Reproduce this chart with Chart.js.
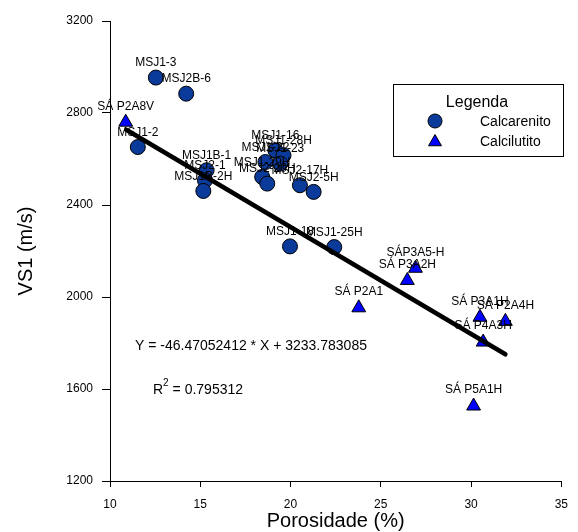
<!DOCTYPE html>
<html lang="pt">
<head>
<meta charset="utf-8">
<title>VS1 x Porosidade</title>
<script src="https://cdn.jsdelivr.net/npm/chart.js@4.4.0/dist/chart.umd.min.js"></script>
<style>
    html, body { margin: 0; padding: 0; background: #fff; }
    #grafico { display: block; }
</style>
</head>
<body>
<canvas id="grafico" width="578" height="532"></canvas>
<script>
// ===== Dados =====
// Calcarenito (círculos)
const calcarenitoNomes = ['MSJ1-3', 'MSJ2B-6', 'MSJ1-2', 'MSJ1B-1', 'MSJ2-1', 'MSJ1B-2H',
    'MSJ1-16', 'MSJ1-28H', 'MSJ1-22', 'MSJ1-23', 'MSJ1-29H', 'MSJ2-20H',
    'MSJ2-17H', 'MSJ2-5H', 'MSJ1-18', 'MSJ1-25H'];
const calcarenitoPorosidade = [12.54, 14.22, 11.54, 15.35, 15.26, 15.17,
    19.16, 19.61, 18.61, 19.43, 18.43, 18.71, 20.52, 21.28, 19.97, 22.42];
const calcarenitoVS1 = [2954, 2884, 2652, 2551, 2507, 2461,
    2638, 2616, 2587, 2580, 2522, 2493, 2486, 2457, 2220, 2217];

// Calcilutito (triângulos)
const calcilutitoNomes = ['SÁ P2A8V', 'SÁP3A5-H', 'SÁ P3A2H', 'SÁ P2A1',
    'SÁ P3A1H', 'SÁ P2A4H', 'SÁ P4A3H', 'SÁ P5A1H'];
const calcilutitoPorosidade = [10.87, 26.92, 26.47, 23.78, 30.49, 31.9, 30.67, 30.14];
const calcilutitoVS1 = [2760, 2125, 2072, 1953, 1912, 1894, 1804, 1526];

// Reta de regressão (extremos)
const retaPorosidade = [10.9, 31.9];
const retaVS1 = [2727, 1751];

// Eixos
const eixoXTicks = [10, 15, 20, 25, 30, 35];
const eixoYTicks = [1200, 1600, 2000, 2400, 2800, 3200];

const textoEquacao = 'Y = -46.47052412 * X + 3233.783085';
const textoR2 = '0.795312';

// ===== Configuração =====
const FONTE = "Arial, 'Liberation Sans', sans-serif";
const corCirculo = '#0a3a9a';
const corTriangulo = '#0000ff';

function pontos(xs, ys) {
    return xs.map((x, i) => ({ x: x, y: ys[i] }));
}

// Rótulos de cada ponto, desenhados antes da reta
const pluginRotulos = {
    id: 'rotulos',
    afterDatasetDraw(chart, args) {
        const ds = chart.data.datasets[args.index];
        if (!ds.nomes) return;
        const ctx = chart.ctx;
        const meta = args.meta;
        ctx.save();
        ctx.font = '12px ' + FONTE;
        ctx.fillStyle = '#000';
        ctx.textAlign = 'center';
        ctx.textBaseline = 'middle';
        meta.data.forEach((el, i) => {
            const dy = ds.pointStyle === 'triangle' ? 16 : 14.5;
            ctx.fillText(ds.nomes[i], el.x, el.y - dy);
        });
        ctx.restore();
    }
};

// Legenda e equação
const pluginAnotacoes = {
    id: 'anotacoes',
    afterDraw(chart) {
        const ctx = chart.ctx;
        ctx.save();

        // Caixa da legenda
        ctx.strokeStyle = '#000';
        ctx.lineWidth = 1;
        ctx.strokeRect(393.5, 84.5, 170, 72);
        ctx.fillStyle = '#000';
        ctx.textBaseline = 'middle';
        ctx.textAlign = 'center';
        ctx.font = '16px ' + FONTE;
        ctx.fillText('Legenda', 477, 103);

        ctx.textAlign = 'left';
        ctx.font = '14px ' + FONTE;
        ctx.fillText('Calcarenito', 480, 122);
        ctx.fillText('Calcilutito', 480, 142);

        // Marcador círculo
        ctx.beginPath();
        ctx.arc(435, 121, 7, 0, Math.PI * 2);
        ctx.fillStyle = corCirculo;
        ctx.fill();
        ctx.strokeStyle = '#000';
        ctx.stroke();

        // Marcador triângulo
        const r = 7.5, cx = 435, cy = 142;
        ctx.beginPath();
        ctx.moveTo(cx, cy - r);
        ctx.lineTo(cx + r * Math.sqrt(3) / 2, cy + r / 2);
        ctx.lineTo(cx - r * Math.sqrt(3) / 2, cy + r / 2);
        ctx.closePath();
        ctx.fillStyle = corTriangulo;
        ctx.fill();
        ctx.stroke();

        // Equação da reta
        ctx.fillStyle = '#000';
        ctx.font = '14px ' + FONTE;
        ctx.fillText(textoEquacao, 135, 346);

        let x = 153;
        ctx.fillText('R', x, 390);
        x += ctx.measureText('R').width;
        ctx.font = '10px ' + FONTE;
        ctx.fillText('2', x, 383);
        x += ctx.measureText('2').width;
        ctx.font = '14px ' + FONTE;
        ctx.fillText(' = ' + textoR2, x, 390);

        ctx.restore();
    }
};

new Chart(document.getElementById('grafico'), {
    data: {
        datasets: [
            {
                type: 'line',
                data: pontos(retaPorosidade, retaVS1),
                borderColor: '#000',
                borderWidth: 4.5,
                borderCapStyle: 'round',
                pointRadius: 0,
                fill: false,
                order: 0
            },
            {
                type: 'scatter',
                label: 'Calcarenito',
                nomes: calcarenitoNomes,
                data: pontos(calcarenitoPorosidade, calcarenitoVS1),
                pointStyle: 'circle',
                pointRadius: 7.5,
                backgroundColor: corCirculo,
                borderColor: '#000',
                borderWidth: 1,
                order: 1
            },
            {
                type: 'scatter',
                label: 'Calcilutito',
                nomes: calcilutitoNomes,
                data: pontos(calcilutitoPorosidade, calcilutitoVS1),
                pointStyle: 'triangle',
                pointRadius: 8,
                backgroundColor: corTriangulo,
                borderColor: '#000',
                borderWidth: 1,
                order: 2
            }
        ]
    },
    options: {
        responsive: false,
        animation: false,
        events: [],
        layout: { padding: { top: 21, right: 9, bottom: 0, left: 0 } },
        plugins: {
            legend: { display: false },
            tooltip: { enabled: false }
        },
        scales: {
            x: {
                type: 'linear',
                min: 10,
                max: 35,
                afterFit: s => { s.height = 51; },
                afterBuildTicks: s => { s.ticks = eixoXTicks.map(v => ({ value: v })); },
                ticks: {
                    color: '#000',
                    padding: 10,
                    font: { family: FONTE, size: 12 },
                    callback: v => String(v)
                },
                grid: { drawOnChartArea: false, drawTicks: true, tickLength: 6, color: '#000' },
                border: { display: true, color: '#000', width: 1 },
                title: {
                    display: true,
                    text: 'Porosidade (%)',
                    color: '#000',
                    font: { family: FONTE, size: 20 },
                    padding: { top: 0, bottom: -1 }
                }
            },
            y: {
                type: 'linear',
                min: 1200,
                max: 3200,
                afterFit: s => { s.width = 110; },
                afterBuildTicks: s => { s.ticks = eixoYTicks.map(v => ({ value: v })); },
                ticks: {
                    color: '#000',
                    padding: 9,
                    font: { family: FONTE, size: 12 },
                    callback: v => String(v)
                },
                grid: { drawOnChartArea: false, drawTicks: true, tickLength: 8, color: '#000' },
                border: { display: true, color: '#000', width: 1 },
                title: {
                    display: true,
                    text: 'VS1 (m/s)',
                    color: '#000',
                    font: { family: FONTE, size: 20 },
                    padding: { top: 14, bottom: 0 }
                }
            }
        }
    },
    plugins: [pluginRotulos, pluginAnotacoes]
});
</script>
</body>
</html>
